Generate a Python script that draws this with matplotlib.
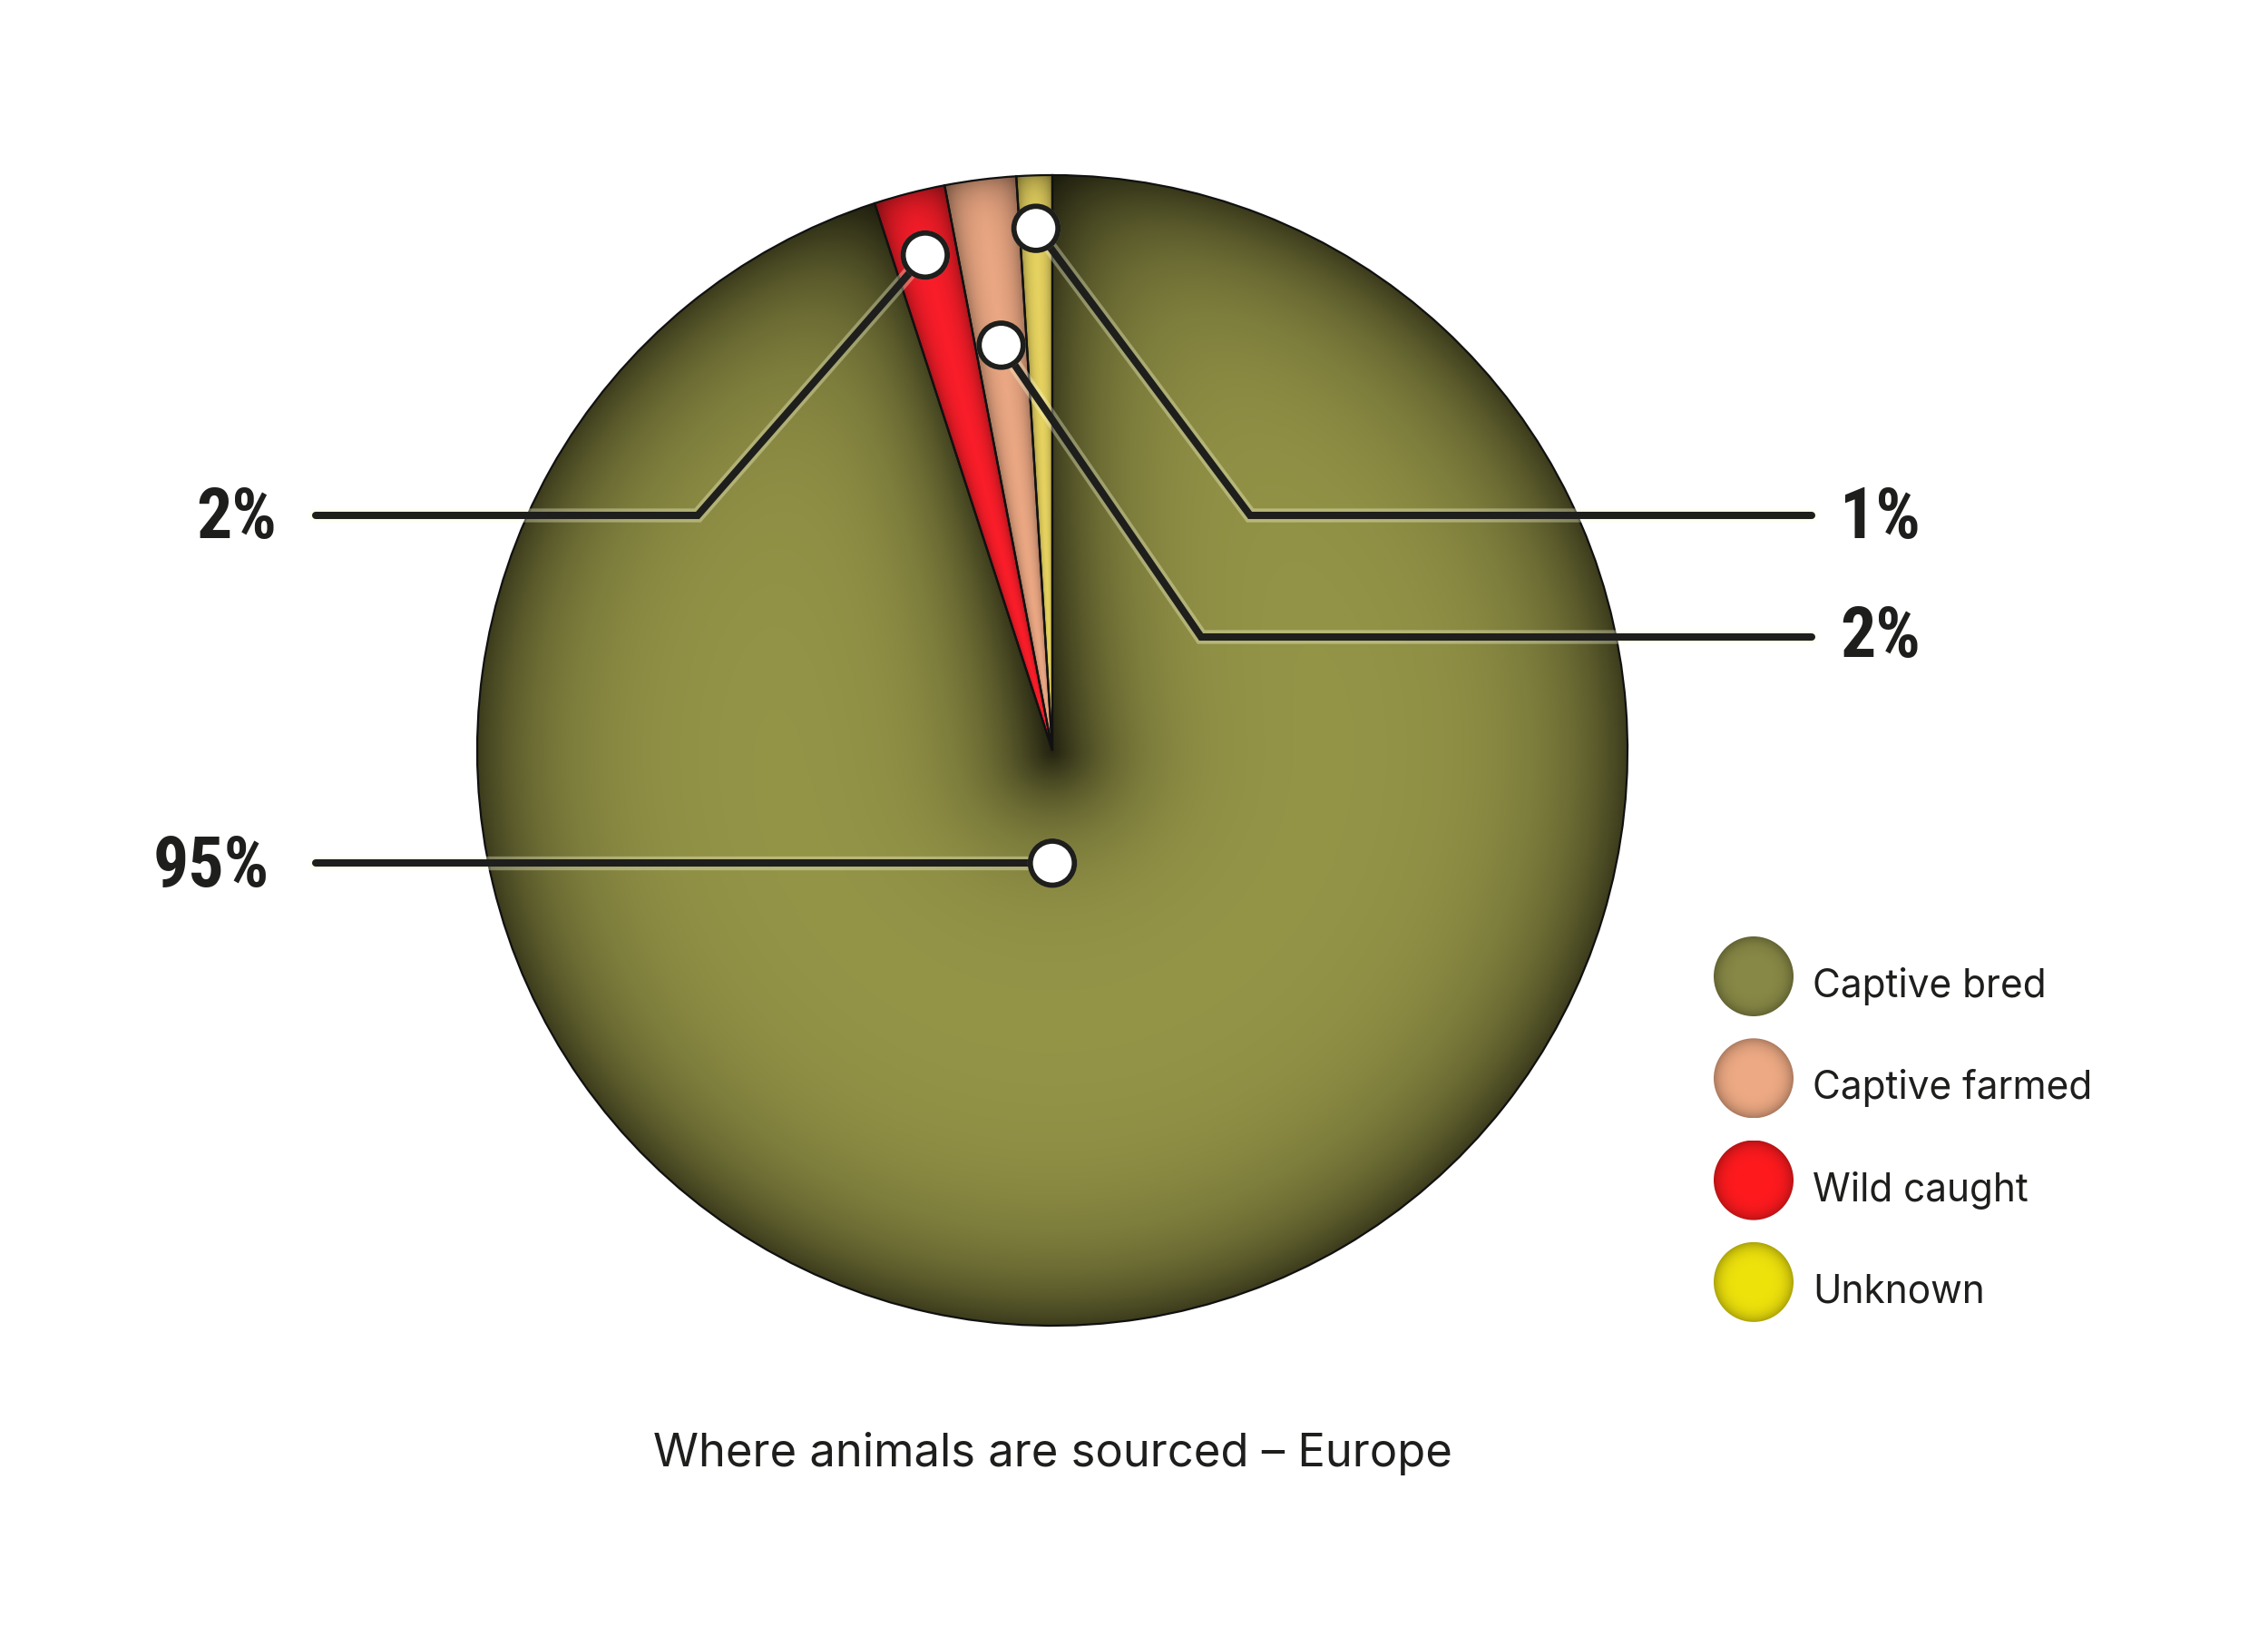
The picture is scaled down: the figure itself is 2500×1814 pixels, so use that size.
import numpy as np
import matplotlib
matplotlib.use('Agg')
import matplotlib.pyplot as plt
import matplotlib.patheffects as pe
from matplotlib import font_manager
from matplotlib.colors import to_rgb
from matplotlib.patches import Circle

# --- data ---
categories = ['Captive bred', 'Captive farmed', 'Wild caught', 'Unknown']
shares = [95, 2, 2, 1]
pct_labels = ['95%', '2%', '2%', '1%']
slice_colors = ['#979749', '#f0ab86', '#ff1e2a', '#ebd762']
legend_colors = ['#888946', '#eeaa84', '#ff1a1e', '#efe30c']
title = 'Where animals are sourced – Europe'

# pie goes counterclockwise from 12 o'clock: Unknown, farmed, wild, bred
pie_order = [3, 1, 2, 0]

# --- layout (pixels, y measured from top) ---
W, H = 2500, 1814
cx, cy_top, R = 1160, 827, 634
cy = H - cy_top
anchor_r = [0.196, 0.71, 0.889, 0.908]
anchor_angle = [270, None, None, None]
elbows = [None, (1324, 702), (769, 568), (1378, 568)]
line_end_x = [348, 1997, 348, 1997]
label_x = [297, 2028, 305, 2028]
label_base = [977, 724, 593, 593]
label_side = ['right', 'left', 'right', 'left']

ink = '#1e1e1c'

# narrow bold face for the percentages, if one is installed
narrow = None
wanted = ['Roboto Condensed', 'Liberation Sans Narrow', 'Open Sans Condensed',
          'Noto Sans Condensed', 'DejaVu Sans Condensed']
names = {f.name for f in font_manager.fontManager.ttflist}
for nm in wanted:
    if nm in names:
        narrow = nm
        break
if narrow is None:
    for f in font_manager.fontManager.ttflist:
        if 'condensed' in str(f.stretch) or 'Condensed' in f.name or 'Narrow' in f.name:
            narrow = f.name
            break
pct_family = [narrow, 'Roboto'] if narrow else ['Roboto']

fig = plt.figure(figsize=(25, 18.14), dpi=100)
ax = fig.add_axes([0, 0, 1, 1])

wedges, _ = ax.pie([shares[i] for i in pie_order],
                   colors=[slice_colors[i] for i in pie_order],
                   startangle=90, counterclock=True, center=(cx, cy), radius=R,
                   wedgeprops=dict(edgecolor='#111111', linewidth=1.6))


def shade_image(t1, t2, base, big):
    n = 1000
    xs = np.linspace(-R, R, n)
    X, Y = np.meshgrid(xs, xs)
    r = np.hypot(X, Y)
    d_arc = np.clip(R - r, 0, None)
    if big:
        def ray_dist(t):
            ux, uy = np.cos(np.radians(t)), np.sin(np.radians(t))
            proj = X * ux + Y * uy
            perp = np.abs(X * uy - Y * ux)
            return np.where(proj > 0, perp, r)
        f = 1 - 0.6 * np.exp(-d_arc / (0.13 * R))
        f *= 1 - 0.5 * np.exp(-ray_dist(t1) / (0.09 * R))
        f *= 1 - 0.55 * np.exp(-ray_dist(t2) / (0.1 * R))
    else:
        ang = np.degrees(np.arctan2(Y, X))
        rel = (ang - t1) % 360
        span = t2 - t1
        da = np.clip(np.minimum(rel, span - rel), 0, None)
        f = 1 - 0.35 * np.exp(-da / (0.18 * span))
        f *= 1 - 0.3 * np.exp(-d_arc / (0.03 * R))
    rgb = np.array(to_rgb(base))[None, None, :] * f[..., None]
    return np.clip(rgb, 0, 1)


for w, i in zip(wedges, pie_order):
    img = shade_image(w.theta1, w.theta2, slice_colors[i], shares[i] > 50)
    im = ax.imshow(img, extent=(cx - R, cx + R, cy - R, cy + R), origin='lower',
                   interpolation='bilinear', zorder=2)
    im.set_clip_path(w)
    w.set_facecolor('none')
    w.set_zorder(3)

# leader lines, dots and percentage labels
glow = [pe.Stroke(linewidth=11, foreground=(1, 1, 0.85, 0.35)), pe.Normal()]
wmap = {i: w for w, i in zip(wedges, pie_order)}
for i in range(len(categories)):
    w = wmap[i]
    th = anchor_angle[i] if anchor_angle[i] is not None else 0.5 * (w.theta1 + w.theta2)
    ax_ = cx + anchor_r[i] * R * np.cos(np.radians(th))
    ay_ = cy + anchor_r[i] * R * np.sin(np.radians(th))
    xs, ys = [ax_], [ay_]
    if elbows[i] is not None:
        ex, ey = elbows[i]
        xs.append(ex)
        ys.append(H - ey)
    xs.append(line_end_x[i])
    ys.append(ys[-1])
    ax.plot(xs, ys, color=ink, lw=5.8, solid_capstyle='round',
            solid_joinstyle='miter', zorder=4, path_effects=glow)
    ax.plot([ax_], [ay_], 'o', ms=35, mfc='white', mec=ink, mew=4.2, zorder=5,
            path_effects=[pe.Stroke(linewidth=4.2, foreground=(1, 1, 0.85, 0.35)), pe.Normal()])
    ax.text(label_x[i], H - label_base[i], pct_labels[i], ha=label_side[i], va='baseline',
            fontsize=56, fontweight='bold', color=ink, family=pct_family,
            fontstretch='condensed')

# legend with shaded balls
leg_x, leg_y0, leg_step, leg_r = 1933, 1076, 112.3, 44
for k, (name, col) in enumerate(zip(categories, legend_colors)):
    y = H - (leg_y0 + k * leg_step)
    ball = Circle((leg_x, y), leg_r, facecolor='none', edgecolor='none', zorder=3)
    ax.add_patch(ball)
    n = 200
    g = np.linspace(-1, 1, n)
    GX, GY = np.meshgrid(g, g)
    rr = np.clip(np.hypot(GX, GY), 0, 1)
    f = 1 - 0.28 * rr ** 5
    img = np.clip(np.array(to_rgb(col))[None, None, :] * f[..., None], 0, 1)
    im = ax.imshow(img, extent=(leg_x - leg_r, leg_x + leg_r, y - leg_r, y + leg_r),
                   origin='lower', interpolation='bilinear', zorder=2)
    im.set_clip_path(ball)
    ax.text(1998, y - 23, name, ha='left', va='baseline', fontsize=30.5,
            family='Inter', color=ink)

ax.text(cx, H - 1616, title, ha='center', va='baseline', fontsize=36.5,
        family='Inter', color=ink)

ax.set_xlim(0, W)
ax.set_ylim(0, H)
ax.set_aspect('equal')
ax.axis('off')

fig.savefig('out.png', dpi=100, facecolor='white')
